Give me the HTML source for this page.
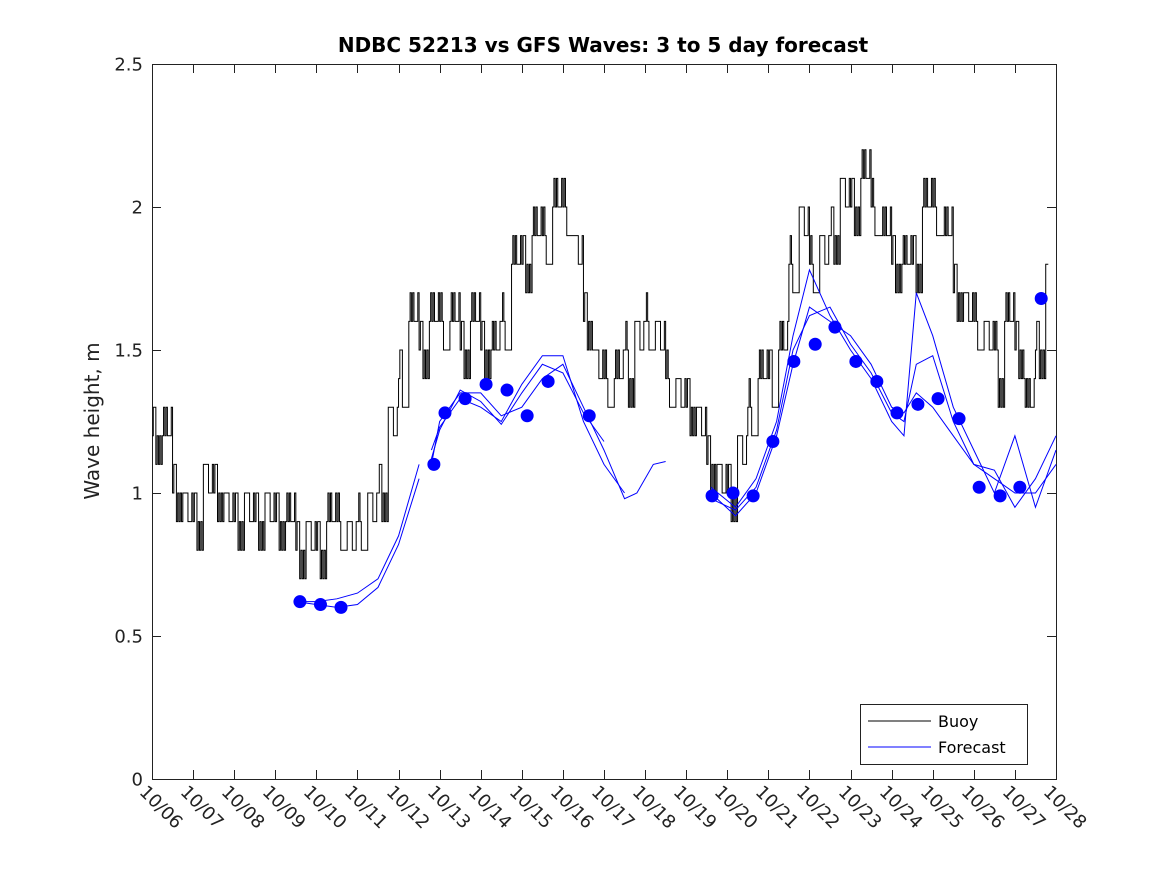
<!DOCTYPE html>
<html><head><meta charset="utf-8"><style>
body{margin:0;background:#fff;}
svg{display:block;font-family:"DejaVu Sans","Liberation Sans",sans-serif;}
</style></head><body>
<svg id="chart" width="1167" height="875">
<rect width="1167" height="875" fill="#fff"/>
<text x="603" y="52" text-anchor="middle" font-size="20" font-weight="bold" fill="#000">NDBC 52213 vs GFS Waves: 3 to 5 day forecast</text>
<text transform="translate(99,421) rotate(-90)" text-anchor="middle" font-size="20" fill="#222">Wave height, m</text>
<g id="axes"></g>
<g id="marks"></g>
<g>
<rect x="860.5" y="704.5" width="167" height="60" fill="#fff" stroke="#222"/>
<line x1="868" y1="721" x2="931" y2="721" stroke="#000"/>
<text x="938" y="727" font-size="16" fill="#000">Buoy</text>
<line x1="868" y1="747" x2="931" y2="747" stroke="#00f"/>
<text x="938" y="753" font-size="16" fill="#000">Forecast</text>
</g>
</svg>
<script>
const dateLabels=["10/06","10/07","10/08","10/09","10/10","10/11","10/12","10/13","10/14","10/15","10/16","10/17","10/18","10/19","10/20","10/21","10/22","10/23","10/24","10/25","10/26","10/27","10/28"];
const yTicks=[0,0.5,1,1.5,2,2.5];
const buoyValues=[1.2,1.15,1.0,0.9, 0.9,1.0,1.0,0.9, 0.9,0.9,0.9,0.9, 0.9,0.85,0.8,0.8, 0.8,0.85,0.85,0.8, 0.85,0.9,1.0,1.2, 1.4,1.55,1.5,1.55, 1.55,1.55,1.5,1.55, 1.5,1.45,1.55,1.75, 1.8,1.85,1.85,1.95, 1.95,1.8,1.6,1.4, 1.35,1.35,1.45,1.5, 1.55,1.5,1.35,1.3, 1.3,1.2,1.1,1.0, 1.0,1.1,1.25,1.35, 1.4,1.45,1.75,1.9, 1.75,1.8,1.9,2.0, 2.0,2.05,1.95,1.85, 1.8,1.75,1.8,1.95, 1.95,1.85,1.7,1.6, 1.55,1.5,1.45,1.55, 1.5,1.25,1.5,1.7];
const buoyJitter=[0,0.1,-0.1,0.1,0,-0.1,0.1,0,0.1,-0.1,0,0.1,-0.1,0.1,0.1,-0.1];
const fcDays1=[3.5,4.0,4.5,5.0,5.5,6.0,6.5];
const fcA1=[0.62,0.62,0.63,0.65,0.70,0.85,1.10];
const fcB1=[0.62,0.61,0.60,0.61,0.67,0.82,1.05];
const fcDays2=[6.8,7.0,7.5,8.0,8.5,9.0,9.5,10.0,10.5,11.0,11.5,11.8,12.2,12.5];
const fcA2=[1.10,1.25,1.35,1.35,1.27,1.30,1.40,1.45,1.30,1.15,0.98,1.00,1.10,1.11];
const fcB2=[1.15,1.23,1.33,1.30,1.25,1.38,1.48,1.48,1.25,1.10,1.00,null,null,null];
const fcC2=[1.12,1.22,1.36,1.32,1.24,1.35,1.45,1.42,1.28,1.18,null,null,null,null];
const fcDays3=[13.6,14.2,14.7,15.2,15.6,16.0,16.5,17.0,17.5,18.0,18.3,18.6,19.0,19.5,20.0,20.5,21.0,21.5,22.0];
const fcA3=[1.00,0.92,1.00,1.20,1.45,1.65,1.60,1.55,1.45,1.30,1.28,1.35,1.30,1.20,1.10,1.05,1.00,1.00,1.10];
const fcB3=[1.02,0.95,1.05,1.25,1.55,1.78,1.62,1.50,1.40,1.25,1.20,1.70,1.55,1.30,1.15,1.00,1.20,0.95,1.15];
const fcC3=[0.98,0.94,1.02,1.22,1.50,1.62,1.65,1.52,1.42,1.28,1.25,1.45,1.48,1.25,1.10,1.08,0.95,1.05,1.20];
const dotDays=[3.6,4.1,4.6,6.86,7.13,7.62,8.13,8.64,9.13,9.64,10.64,13.63,14.14,14.63,15.11,15.62,16.14,16.62,17.13,17.64,18.13,18.64,19.13,19.64,20.13,20.64,21.12,21.64];
const dotValues=[0.62,0.61,0.60,1.10,1.28,1.33,1.38,1.36,1.27,1.39,1.27,0.99,1.00,0.99,1.18,1.46,1.52,1.58,1.46,1.39,1.28,1.31,1.33,1.26,1.02,0.99,1.02,1.68];

const X0=152,X1=1056,Y0=779,Y1=64;
const xs=d=>X0+(X1-X0)*d/22;
const ys=v=>Y0-(Y0-Y1)*v/2.5;
const NS="http://www.w3.org/2000/svg";
function mk(tag,attrs,parent){const e=document.createElementNS(NS,tag);for(const k in attrs)e.setAttribute(k,attrs[k]);parent.appendChild(e);return e;}
const axes=document.getElementById('axes'),marks=document.getElementById('marks');
let e=mk('rect',{x:X0+.5,y:Y1+.5,width:X1-X0,height:Y0-Y1,fill:'none',stroke:'#222'},axes);


dateLabels.forEach((l,i)=>{const x=Math.round(xs(i))+.5;
mk('line',{x1:x,y1:Y0,x2:x,y2:Y0-9,stroke:'#222'},axes);
mk('line',{x1:x,y1:Y1,x2:x,y2:Y1+9,stroke:'#222'},axes);
const t=mk('text',{x:0,y:0,transform:`translate(${x-14},${Y0+14}) rotate(45)`,'font-size':18,fill:'#222'},axes);t.textContent=l;

});
yTicks.forEach(v=>{const y=Math.round(ys(v))+.5;
mk('line',{x1:X0,y1:y,x2:X0+9,y2:y,stroke:'#222'},axes);
mk('line',{x1:X1,y1:y,x2:X1-9,y2:y,stroke:'#222'},axes);
const t=mk('text',{x:X0-9,y:y+6,'text-anchor':'end','font-size':18,fill:'#222'},axes);t.textContent=String(v);

});
let pts=[];
buoyValues.forEach((v,i)=>{for(let k=0;k<8;k++){const d=(i+k/8)*0.25;if(d>21.8)break;const j=buoyJitter[(i*8+k*3)%16]*((k%2)?1:0.5);const val=Math.round((v+j)*10)/10;pts.push([xs(d),ys(val)]);pts.push([xs(d+0.03125),ys(val)]);}});
e=mk('polyline',{points:pts.map(p=>p.join(',')).join(' '),fill:'none',stroke:'#000','stroke-width':1},marks);


function fline(days,vals,name){let seg=[];const flush=()=>{if(seg.length>1){const p=mk('polyline',{points:seg.join(' '),fill:'none',stroke:'#00f','stroke-width':1},marks);

}seg=[];};
days.forEach((d,i)=>{if(vals[i]==null)flush();else seg.push(xs(d)+','+ys(vals[i]));});flush();}
fline(fcDays1,fcA1,'forecast-line');fline(fcDays1,fcB1,'forecast-line');
fline(fcDays2,fcA2,'forecast-line');fline(fcDays2,fcB2,'forecast-line');fline(fcDays2,fcC2,'forecast-line');
fline(fcDays3,fcA3,'forecast-line');fline(fcDays3,fcB3,'forecast-line');fline(fcDays3,fcC3,'forecast-line');
dotDays.forEach((d,i)=>{const c=mk('circle',{cx:xs(d),cy:ys(dotValues[i]),r:6.5,fill:'#00f'},marks);

});
</script>
</body></html>
